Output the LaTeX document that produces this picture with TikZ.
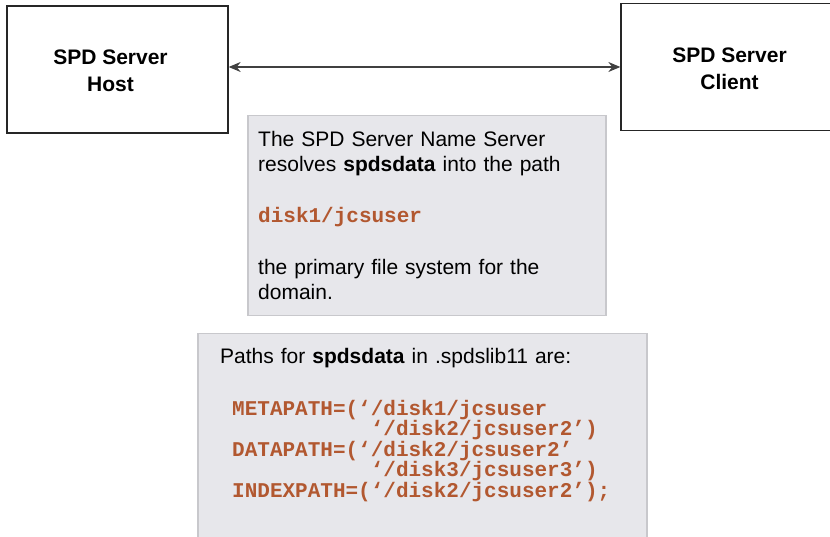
\documentclass[tikz,border=0pt]{standalone}
\usepackage{fontspec}
\setmainfont{Liberation Sans}
\setmonofont{Liberation Mono}
\usepackage{tikz}
\usetikzlibrary{arrows.meta}
\definecolor{pathrust}{RGB}{178,88,48}
\definecolor{panelgray}{RGB}{231,231,235}
\definecolor{panelrule}{RGB}{200,200,204}
\newcommand{\pathtt}[1]{{\ttfamily\bfseries\color{pathrust}#1}}

\begin{document}
\begin{tikzpicture}[x=1pt, y=-1pt,
    serverbox/.style={rectangle, draw=black!85, line width=1.3pt, minimum width=221pt, minimum height=127pt},
    servertext/.style={align=center, inner sep=0pt, font=\fontsize{21}{27}\selectfont\bfseries},
    panel/.style={rectangle, draw=panelrule, fill=panelgray, line width=1.5pt, anchor=north west, inner sep=0pt},
    notetext/.style={anchor=base west, inner sep=0pt, text width=400pt, align=left, font=\fontsize{21}{25}\selectfont},
    codetext/.style={anchor=base west, inner sep=0pt, text width=420pt, align=left, font=\fontsize{21}{20.5}\selectfont\ttfamily\bfseries, text=pathrust}]
    \useasboundingbox (0,0) rectangle (830,537);
    \clip (0,0) rectangle (830,537);
    %Nodes
    \node[serverbox] (host) at (117.5,69.5) {};
    \node[servertext] (hosttext) at (110.5,71) {SPD Server\\Host};
    \node[serverbox] (client) at (731.5,67) {};
    \node[servertext] (clienttext) at (729.5,69) {SPD Server\\Client};
    \node[panel, minimum width=358pt, minimum height=200pt] (namebox) at (247,115) {};
    \node[notetext] (nametext) at (258,147) {The SPD Server Name Server\\
      resolves \textbf{spdsdata} into the path\\[26pt]
      \pathtt{disk1/jcsuser}\\[27pt]
      the primary file system for the\\
      domain.};
    \node[panel, minimum width=449pt, minimum height=215pt] (pathbox) at (197,333) {};
    \node[notetext] (pathhead) at (220,363) {Paths for \textbf{spdsdata} in .spdslib11 are:};
    \node[codetext] (pathcode) at (232,415) {METAPATH=(‘/disk1/jcsuser\\
      \phantom{METAPATH=(‘}‘/disk2/jcsuser2’)\\
      DATAPATH=(‘/disk2/jcsuser2’\\
      \phantom{METAPATH=(‘}‘/disk3/jcsuser3’)\\
      INDEXPATH=(‘/disk2/jcsuser2’);};

    % %Lines
    \draw[{Stealth[length=12pt,width=10pt]}-{Stealth[length=12pt,width=10pt]}, line width=1.3pt, draw=black!75] (host.east |- client.west) -- (client.west);
\end{tikzpicture}
\end{document}
